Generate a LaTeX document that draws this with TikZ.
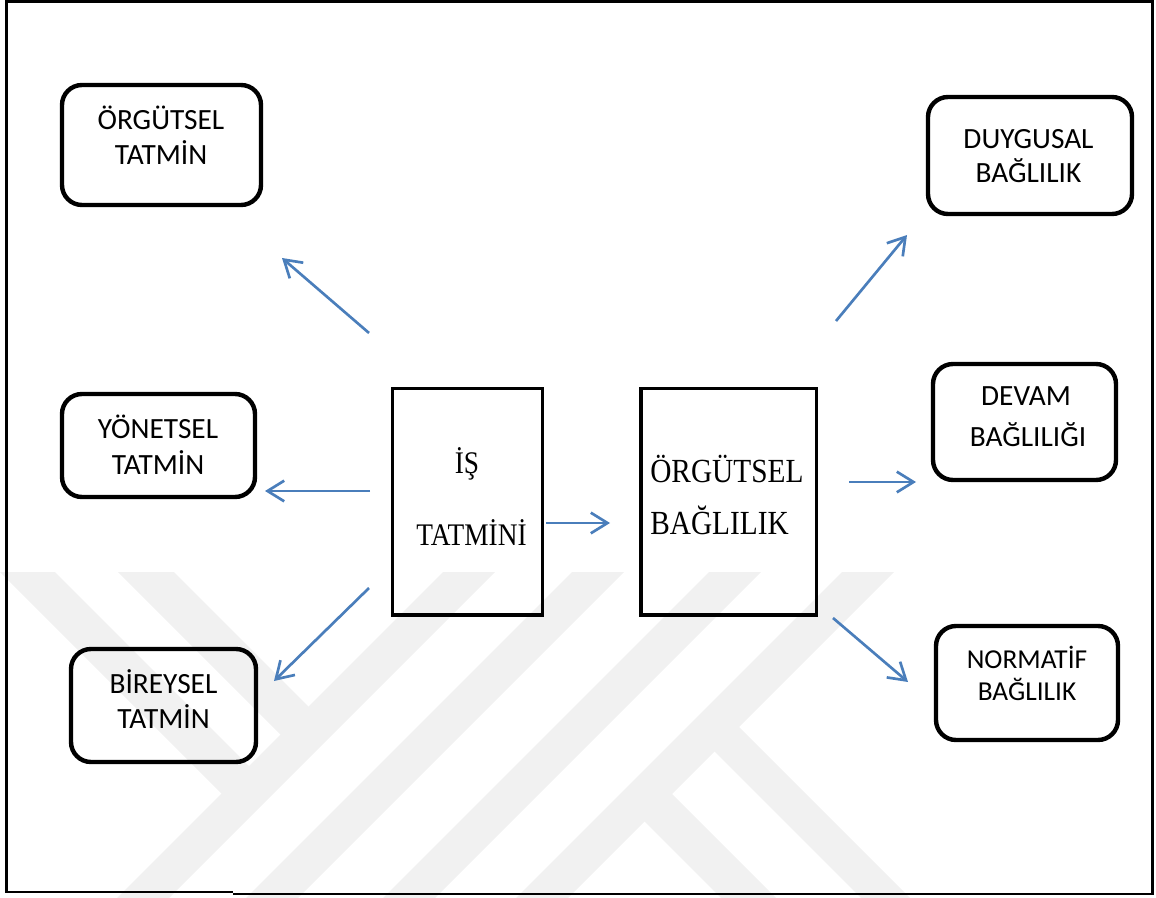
\documentclass[tikz,border=0pt]{standalone}
\usepackage{fontspec}
\setmainfont{Liberation Serif}
\newfontfamily\calib{Carlito}
\usetikzlibrary{arrows.meta,fit}
\definecolor{linkblue}{HTML}{4A7EBB}
\definecolor{wmgray}{HTML}{F1F1F1}
\newcommand{\tallser}[1]{\scalebox{1}[1.15]{#1}}
\begin{document}
\begin{tikzpicture}[x=0.75pt,y=-0.75pt,
  rbox/.style={draw, line width=3.3pt, rounded corners=15pt, inner sep=0pt},
  sbox/.style={draw, line width=2.3pt, inner sep=0pt},
  tag/.style={font=\calib\fontsize{22}{26}\selectfont, anchor=base, inner sep=0pt},
  tagsmall/.style={font=\calib\fontsize{20.5}{24}\selectfont, anchor=base, inner sep=0pt},
  serif/.style={font=\fontsize{20.5}{24}\selectfont, anchor=base, inner sep=0pt},
  link/.style={draw=linkblue, line width=2pt, -{Straight Barb[length=12.5pt,width=15.5pt]}},
  frame/.style={line width=2pt},
]
\useasboundingbox (0,0) rectangle (1156,898);

% faint logo stripes in the background
\begin{scope}
  \clip (0,0) rectangle (1156,898);
  \fill[wmgray] (0,572) -- (55,572) -- (262,779) -- (234.5,806.5) -- cycle;
  \fill[wmgray] (118,572) -- (174,572) -- (321.5,719.5) -- (293.5,747.5) -- cycle;
  \fill[wmgray] (443,572) -- (495,572) -- (157,910) -- (105,910) -- cycle;
  \fill[wmgray] (572,572) -- (624,572) -- (286,910) -- (234,910) -- cycle;
  \fill[wmgray] (709,572) -- (761,572) -- (423,910) -- (371,910) -- cycle;
  \fill[wmgray] (842,572) -- (894,572) -- (556,910) -- (504,910) -- cycle;
  \fill[wmgray] (726,714) -- (922,910) -- (873,910) -- (701.5,738.5) -- cycle;
  \fill[wmgray] (659,781) -- (788,910) -- (733,910) -- (631.5,808.5) -- cycle;
\end{scope}

% outer frame
\draw[frame] (233,894) -- (1152.3,894) -- (1152.3,1.2) -- (6.8,1.2) -- (6.8,892) -- (233,892);

% central boxes
\node[sbox, fit={(392.5,388.5) (542.5,615)}] (is) {};
\node[serif] (is-1) at (467,473) {\tallser{İŞ}};
\node[serif] (is-2) at (471.5,545) {\tallser{TATMİNİ}};

\node[sbox, fit={(641,388.5) (816.5,615)}] (ob) {};
\node[serif, font=\fontsize{22}{26}\selectfont, anchor=base west] (ob-1) at (650,482) {\tallser{ÖRGÜTSEL}};
\node[serif, font=\fontsize{22}{26}\selectfont, anchor=base west] (ob-2) at (650,534) {\tallser{BAĞLILIK}};

% satisfaction types
\node[rbox, fit={(62,85) (261,205)}] (ot) {};
\node[tag] (ot-1) at (161,130) {ÖRGÜTSEL};
\node[tag] (ot-2) at (161,165) {TATMİN};

\node[rbox, fit={(62,394) (255,497)}] (yt) {};
\node[tag] (yt-1) at (158,438) {YÖNETSEL};
\node[tag] (yt-2) at (158,474) {TATMİN};

\node[rbox, fit={(71,649) (256,762)}] (bt) {};
\node[tag] (bt-1) at (163.5,693) {BİREYSEL};
\node[tag] (bt-2) at (163.5,728) {TATMİN};

% commitment types
\node[rbox, fit={(928,97) (1132,214)}] (db) {};
\node[tag] (db-1) at (1028.5,149) {DUYGUSAL};
\node[tag] (db-2) at (1028.5,183) {BAĞLILIK};

\node[rbox, fit={(933,364) (1116,480)}] (dv) {};
\node[tag] (dv-1) at (1026,406) {DEVAM};
\node[tag] (dv-2) at (1028,446) {BAĞLILIĞI};

\node[rbox, fit={(936,626) (1118,740)}] (nb) {};
\node[tagsmall] (nb-1) at (1027,668) {NORMATİF};
\node[tagsmall] (nb-2) at (1027,700) {BAĞLILIK};

% arrow end points
\coordinate (s1) at (369,333);   \coordinate (e1) at (282,258);
\coordinate (s2) at (370,491);   \coordinate (e2) at (265,491);
\coordinate (s3) at (369,588);   \coordinate (e3) at (274,681);
\coordinate (s4) at (546,523);   \coordinate (e4) at (610,523);
\coordinate (s5) at (836,321);   \coordinate (e5) at (907,235);
\coordinate (s6) at (849,482);   \coordinate (e6) at (916,482);
\coordinate (s7) at (833,618);   \coordinate (e7) at (908,682);

\draw[link] (s1) -- (e1);
\draw[link] (s2) -- (e2);
\draw[link] (s3) -- (e3);
\draw[link] (s4) -- (e4);
\draw[link] (s5) -- (e5);
\draw[link] (s6) -- (e6);
\draw[link] (s7) -- (e7);
\end{tikzpicture}
\end{document}
